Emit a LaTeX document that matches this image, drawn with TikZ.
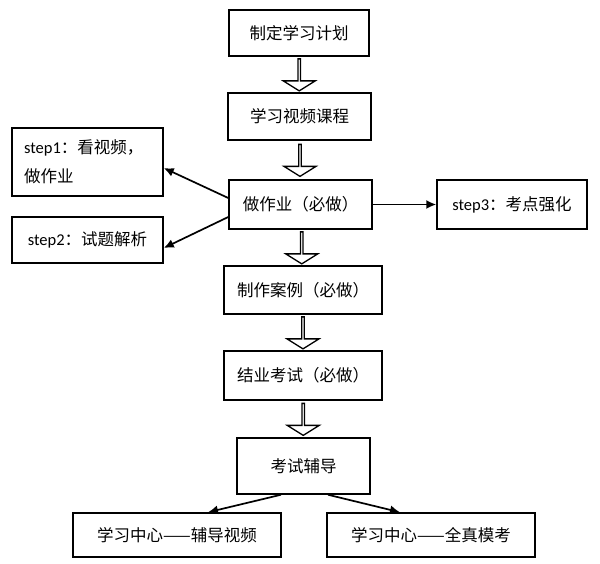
\documentclass[tikz,border=0pt]{standalone}
\usepackage{fontspec}
\setmainfont{Carlito}
\newfontfamily\cjk{Noto Sans CJK SC}
\usetikzlibrary{shapes.arrows,calc,arrows.meta}

\begin{document}
\begin{tikzpicture}[x=1pt,y=-1pt]
			\tikzstyle{stage} = [draw, line width=1.5pt, inner sep=0pt, font=\cjk\fontsize{16.5}{29}\selectfont]
			\tikzstyle{note} = [stage, align=left, text width=127pt]
			\tikzstyle{hollow} = [draw, line width=1.3pt, single arrow, shape border rotate=270, inner sep=0pt, minimum height=32pt, minimum width=32pt, single arrow head extend=8pt, single arrow tip angle=116]
			\tikzset{edge/.style = {-{Latex[length=10pt,width=9pt]}, line width=1.7pt}}

			\useasboundingbox (0,0) rectangle (600,564);

			% main line
			\node[stage, minimum width=140pt, minimum height=46pt](plan)   at (299,33)    {制定学习计划};
			\node[stage, minimum width=143pt, minimum height=47pt](video)  at (299.5,116.5) {学习视频课程};
			\node[stage, minimum width=143pt, minimum height=49pt](work)   at (300.5,204.5) {做作业（必做）};
			\node[stage, minimum width=158pt, minimum height=48pt](case)   at (303,290)   {制作案例（必做）};
			\node[stage, minimum width=158pt, minimum height=49pt](exam)   at (303,375.5) {结业考试（必做）};
			\node[stage, minimum width=133pt, minimum height=56pt](tutor)  at (303.5,466) {考试辅导};

			% hollow arrows between the steps
			\node[hollow] at ($(plan.south)!.5!(video.north)$) {};
			\node[hollow] at ($(video.south)!.5!(work.north)$) {};
			\node[hollow] at ($(work.south)!.5!(case.north)$) {};
			\node[hollow] at ($(case.south)!.5!(exam.north)$) {};
			\node[hollow] at ($(exam.south)!.5!(tutor.north)$) {};

			% homework steps
			\node[note, minimum width=151pt, minimum height=68pt](step1) at (87.5,162) {{\rmfamily step1}：看视频，\\做作业};
			\node[stage, minimum width=151pt, minimum height=46pt](step2) at (87.5,240) {{\rmfamily step2}：试题解析};
			\node[stage, minimum width=150pt, minimum height=49pt](step3) at (512,204.5) {{\rmfamily step3}：考点强化};
			\draw[edge]([yshift=6.5pt]work.west) to ([yshift=-6pt]step1.east);
			\draw[edge]([yshift=-12.5pt]work.west) to ([yshift=-8pt]step2.east);
			\draw[edge](work.east) to (step3.west);

			% learning center
			\node[stage, minimum width=208pt, minimum height=44pt](center1) at (177,535) {学习中心——辅导视频};
			\node[stage, minimum width=208pt, minimum height=44pt](center2) at (431,535) {学习中心——全真模考};
			\draw[edge]([xshift=-22.5pt]tutor.south) to ([xshift=31pt]center1.north);
			\draw[edge]([xshift=24.5pt]tutor.south) to ([xshift=-31pt]center2.north);
\end{tikzpicture}
\end{document}
